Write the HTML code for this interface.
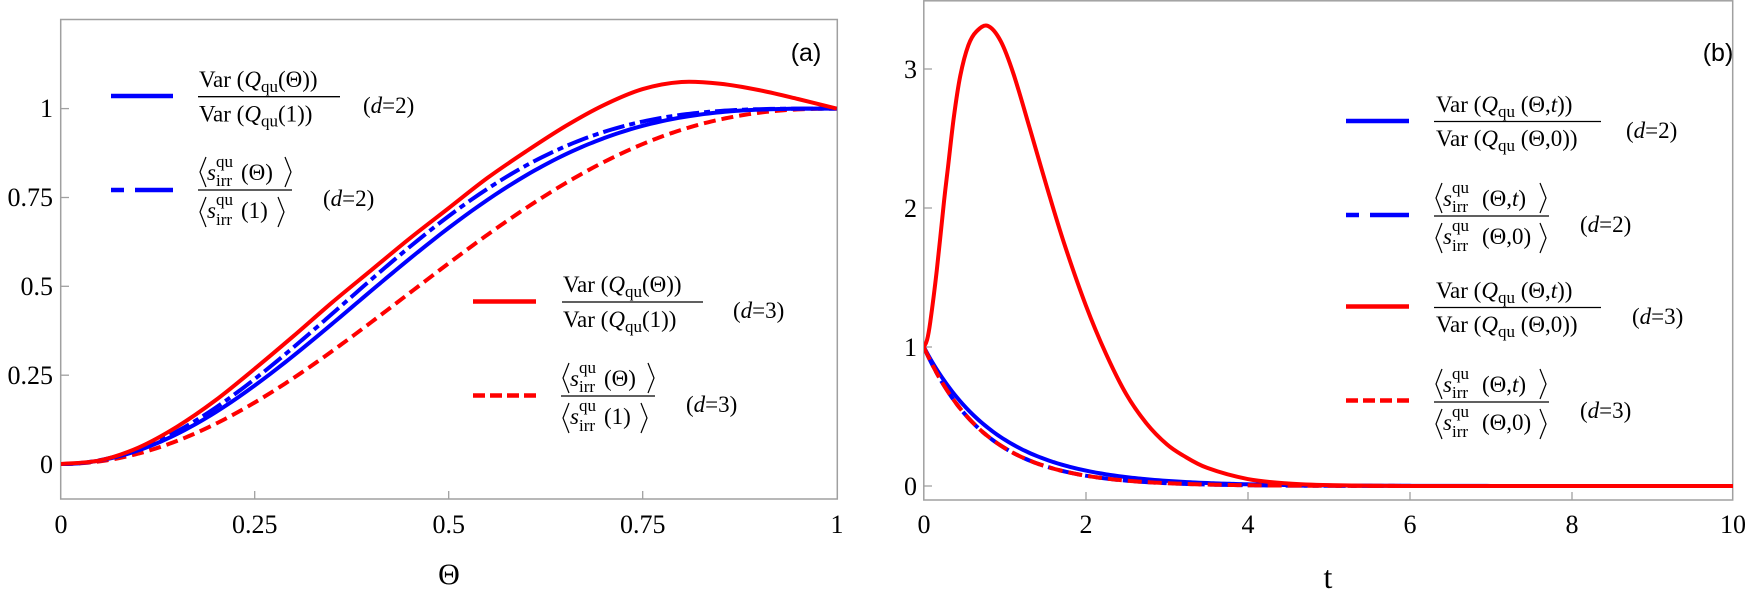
<!DOCTYPE html>
<html><head><meta charset="utf-8"><style>
html,body{margin:0;padding:0;background:#fff;}
svg{display:block;}
svg text, svg tspan{font-family:"Liberation Serif","Times New Roman",serif !important;}
svg text.sans{font-family:"Liberation Sans",sans-serif !important;}
</style></head><body>
<svg id="s" width="1748" height="589" viewBox="0 0 1748 589" xmlns="http://www.w3.org/2000/svg" font-family="Liberation Serif, serif">
<defs>
<clipPath id="ca"><rect x="61" y="20" width="776" height="479"/></clipPath>
<clipPath id="cb"><rect x="924" y="1" width="809" height="499"/></clipPath>
</defs>
<rect x="60.7" y="19.5" width="776.6" height="479.5" fill="none" stroke="#a0a0a0" stroke-width="1.5"/>
<rect x="923.8" y="0.8" width="808.9" height="499.2" fill="none" stroke="#a0a0a0" stroke-width="1.5"/>
<g stroke="#a0a0a0" stroke-width="1.3">
<line x1="61" y1="464" x2="69" y2="464"/><line x1="61" y1="375.2" x2="69" y2="375.2"/>
<line x1="61" y1="286.3" x2="69" y2="286.3"/><line x1="61" y1="197.5" x2="69" y2="197.5"/>
<line x1="61" y1="108.6" x2="69" y2="108.6"/>
<line x1="254.7" y1="499" x2="254.7" y2="491"/><line x1="448.7" y1="499" x2="448.7" y2="491"/>
<line x1="642.7" y1="499" x2="642.7" y2="491"/>
<line x1="924" y1="486" x2="932" y2="486"/><line x1="924" y1="347" x2="932" y2="347"/>
<line x1="924" y1="208" x2="932" y2="208"/><line x1="924" y1="69" x2="932" y2="69"/>
<line x1="1086" y1="500" x2="1086" y2="492"/><line x1="1248" y1="500" x2="1248" y2="492"/>
<line x1="1410" y1="500" x2="1410" y2="492"/><line x1="1572" y1="500" x2="1572" y2="492"/>
</g>
<g font-size="26" text-anchor="end" font-family="Liberation Serif, serif">
<text x="53" y="473">0</text><text x="53" y="384">0.25</text><text x="53" y="295">0.5</text>
<text x="53" y="206">0.75</text><text x="53" y="117">1</text>
</g>
<g font-size="26" text-anchor="middle" font-family="Liberation Serif, serif">
<text x="61" y="533">0</text><text x="254.7" y="533">0.25</text><text x="448.7" y="533">0.5</text>
<text x="642.7" y="533">0.75</text><text x="837" y="533">1</text>
<text x="449" y="584" font-size="30">Θ</text>
</g>
<g font-size="26" text-anchor="end" font-family="Liberation Serif, serif">
<text x="917" y="495">0</text><text x="917" y="356">1</text><text x="917" y="217">2</text><text x="917" y="78">3</text>
</g>
<g font-size="26" text-anchor="middle" font-family="Liberation Serif, serif">
<text x="924" y="533">0</text><text x="1086" y="533">2</text><text x="1248" y="533">4</text>
<text x="1410" y="533">6</text><text x="1572" y="533">8</text><text x="1733" y="533">10</text>
<text x="1328" y="588" font-size="32">t</text>
</g>
<text class="sans" x="806" y="61" font-size="25" text-anchor="middle" font-family="Liberation Sans, sans-serif">(a)</text>
<text class="sans" x="1718" y="61" font-size="25" text-anchor="middle" font-family="Liberation Sans, sans-serif">(b)</text>

<g id="curvesA" clip-path="url(#ca)" fill="none" stroke-width="4"></g>
<g id="curvesB" clip-path="url(#cb)" fill="none" stroke-width="4"></g>

<g stroke-width="4.5">
<line x1="111" y1="96" x2="173" y2="96" stroke="#0000ff"/>
<line x1="111" y1="190" x2="173" y2="190" stroke="#0000ff" stroke-dasharray="13,11,40"/>
<line x1="473" y1="301.5" x2="536" y2="301.5" stroke="#ff0000"/>
<line x1="473" y1="395.5" x2="536" y2="395.5" stroke="#ff0000" stroke-dasharray="12,5"/>
</g>
<g font-size="23" stroke="none" font-family="Liberation Serif, serif">
<line x1="198" y1="96.7" x2="340" y2="96.7" stroke="#000" stroke-width="1.3"/>
<text x="199" y="87">Var (<tspan font-style="italic">Q</tspan><tspan font-size="17" dy="5">qu</tspan><tspan dy="-5">(Θ))</tspan></text>
<text x="199" y="121.5">Var (<tspan font-style="italic">Q</tspan><tspan font-size="17" dy="5">qu</tspan><tspan dy="-5">(1))</tspan></text>
<text x="363" y="113">(<tspan font-style="italic">d</tspan>=2)</text>

<line x1="198" y1="190" x2="292" y2="190" stroke="#000" stroke-width="1.3"/>
<path d="M206,157 L200,172 L206,187 M285,157 L291,172 L285,187 M206,197 L200,212 L206,227 M278,197 L284,212 L278,227" stroke="#000" stroke-width="1.2" fill="none"/>
<text x="207" y="180" font-style="italic">s</text>
<text x="216" y="167" font-size="17">qu</text><text x="216" y="186" font-size="17">irr</text>
<text x="241" y="180">(Θ)</text>
<text x="207" y="218" font-style="italic">s</text>
<text x="216" y="205" font-size="17">qu</text><text x="216" y="225" font-size="17">irr</text>
<text x="241" y="218">(1)</text>
<text x="323" y="206">(<tspan font-style="italic">d</tspan>=2)</text>

<line x1="562" y1="302" x2="703" y2="302" stroke="#000" stroke-width="1.3"/>
<text x="563" y="292">Var (<tspan font-style="italic">Q</tspan><tspan font-size="17" dy="5">qu</tspan><tspan dy="-5">(Θ))</tspan></text>
<text x="563" y="327">Var (<tspan font-style="italic">Q</tspan><tspan font-size="17" dy="5">qu</tspan><tspan dy="-5">(1))</tspan></text>
<text x="733" y="318">(<tspan font-style="italic">d</tspan>=3)</text>

<line x1="561" y1="396" x2="655" y2="396" stroke="#000" stroke-width="1.3"/>
<path d="M569,363 L563,378 L569,393 M648,363 L654,378 L648,393 M569,403 L563,418 L569,433 M641,403 L647,418 L641,433" stroke="#000" stroke-width="1.2" fill="none"/>
<text x="570" y="386" font-style="italic">s</text>
<text x="579" y="373" font-size="17">qu</text><text x="579" y="392" font-size="17">irr</text>
<text x="604" y="386">(Θ)</text>
<text x="570" y="424" font-style="italic">s</text>
<text x="579" y="411" font-size="17">qu</text><text x="579" y="431" font-size="17">irr</text>
<text x="604" y="424">(1)</text>
<text x="686" y="412">(<tspan font-style="italic">d</tspan>=3)</text>
</g>

<g stroke-width="4.5">
<line x1="1346" y1="121" x2="1409" y2="121" stroke="#0000ff"/>
<line x1="1346" y1="215" x2="1409" y2="215" stroke="#0000ff" stroke-dasharray="13,11,40"/>
<line x1="1346" y1="306.5" x2="1409" y2="306.5" stroke="#ff0000"/>
<line x1="1346" y1="400.5" x2="1409" y2="400.5" stroke="#ff0000" stroke-dasharray="12,5"/>
</g>
<g font-size="23" font-family="Liberation Serif, serif">
<line x1="1434" y1="121.5" x2="1601" y2="121.5" stroke="#000" stroke-width="1.3"/>
<text x="1436" y="112">Var (<tspan font-style="italic">Q</tspan><tspan font-size="17" dy="5">qu</tspan><tspan dy="-5"> (Θ,<tspan font-style="italic">t</tspan>))</tspan></text>
<text x="1436" y="146">Var (<tspan font-style="italic">Q</tspan><tspan font-size="17" dy="5">qu</tspan><tspan dy="-5"> (Θ,0))</tspan></text>
<text x="1626" y="138">(<tspan font-style="italic">d</tspan>=2)</text>

<line x1="1434" y1="216" x2="1549" y2="216" stroke="#000" stroke-width="1.3"/>
<path d="M1442,183 L1436,198 L1442,213 M1540,183 L1546,198 L1540,213 M1442,223 L1436,238 L1442,253 M1540,223 L1546,238 L1540,253" stroke="#000" stroke-width="1.2" fill="none"/>
<text x="1443" y="206" font-style="italic">s</text>
<text x="1452" y="193" font-size="17">qu</text><text x="1452" y="212" font-size="17">irr</text>
<text x="1482" y="206">(Θ,<tspan font-style="italic">t</tspan>)</text>
<text x="1443" y="244" font-style="italic">s</text>
<text x="1452" y="231" font-size="17">qu</text><text x="1452" y="251" font-size="17">irr</text>
<text x="1482" y="244">(Θ,0)</text>
<text x="1580" y="232">(<tspan font-style="italic">d</tspan>=2)</text>

<line x1="1434" y1="307.5" x2="1601" y2="307.5" stroke="#000" stroke-width="1.3"/>
<text x="1436" y="298">Var (<tspan font-style="italic">Q</tspan><tspan font-size="17" dy="5">qu</tspan><tspan dy="-5"> (Θ,<tspan font-style="italic">t</tspan>))</tspan></text>
<text x="1436" y="332">Var (<tspan font-style="italic">Q</tspan><tspan font-size="17" dy="5">qu</tspan><tspan dy="-5"> (Θ,0))</tspan></text>
<text x="1632" y="324">(<tspan font-style="italic">d</tspan>=3)</text>

<line x1="1434" y1="402" x2="1549" y2="402" stroke="#000" stroke-width="1.3"/>
<path d="M1442,369 L1436,384 L1442,399 M1540,369 L1546,384 L1540,399 M1442,409 L1436,424 L1442,439 M1540,409 L1546,424 L1540,439" stroke="#000" stroke-width="1.2" fill="none"/>
<text x="1443" y="392" font-style="italic">s</text>
<text x="1452" y="379" font-size="17">qu</text><text x="1452" y="398" font-size="17">irr</text>
<text x="1482" y="392">(Θ,<tspan font-style="italic">t</tspan>)</text>
<text x="1443" y="430" font-style="italic">s</text>
<text x="1452" y="417" font-size="17">qu</text><text x="1452" y="437" font-size="17">irr</text>
<text x="1482" y="430">(Θ,0)</text>
<text x="1580" y="418">(<tspan font-style="italic">d</tspan>=3)</text>
</g>
</svg>
<script>
(function(){
var NS="http://www.w3.org/2000/svg";
function cr(pts){
  var d="M"+pts[0][0].toFixed(2)+","+pts[0][1].toFixed(2);
  for(var i=0;i<pts.length-1;i++){
    var p0=pts[i>0?i-1:i],p1=pts[i],p2=pts[i+1],p3=pts[i+2<pts.length?i+2:i+1];
    var c1=[p1[0]+(p2[0]-p0[0])/6,p1[1]+(p2[1]-p0[1])/6];
    var c2=[p2[0]-(p3[0]-p1[0])/6,p2[1]-(p3[1]-p1[1])/6];
    d+=" C"+c1[0].toFixed(2)+","+c1[1].toFixed(2)+" "+c2[0].toFixed(2)+","+c2[1].toFixed(2)+" "+p2[0].toFixed(2)+","+p2[1].toFixed(2);
  }
  return d;
}
function add(g,knots,fx,fy,color,dash){
  var pts=knots.map(function(k){return [fx(k[0]),fy(k[1])];});
  var p=document.createElementNS(NS,"path");
  p.setAttribute("d",cr(pts));p.setAttribute("stroke",color);
  if(dash)p.setAttribute("stroke-dasharray",dash);
  document.getElementById(g).appendChild(p);
}
function addF(g,f,t0,t1,n,fx,fy,color,dash){
  var k=[];for(var i=0;i<=n;i++){var t=t0+(t1-t0)*i/n;k.push([t,f(t)]);}
  add(g,k,fx,fy,color,dash);
}
var ax=function(x){return 60.7+776*x;}, ay=function(v){return 464-355.4*v;};
var bx=function(x){return 923.8+81*x;}, by=function(v){return 486-139*v;};
function base(k){return function(x){return 1-Math.pow(Math.cos(Math.PI*x/2),k);};}
// panel a
addF("curvesA",base(2.4),0,1,100,ax,ay,"#ff0000","12,6");
addF("curvesA",base(3.15),0,1,100,ax,ay,"#0000ff");
addF("curvesA",base(3.45),0,1,100,ax,ay,"#0000ff","22,5,6,5");
add("curvesA",[[0,0],[0.05,0.01],[0.1,0.046],[0.15,0.105],[0.2,0.18],[0.25,0.268],[0.3,0.36],[0.35,0.455],[0.4,0.545],[0.45,0.635],[0.5,0.72],[0.55,0.805],[0.6,0.88],[0.65,0.95],[0.7,1.01],[0.75,1.055],[0.8,1.075],[0.85,1.07],[0.9,1.052],[0.95,1.027],[1,1]],ax,ay,"#ff0000");
// panel b
addF("curvesB",function(t){return Math.exp(-1.1*t);},0,10,200,bx,by,"#0000ff");
addF("curvesB",function(t){return Math.exp(-1.3*t);},0,10,200,bx,by,"#0000ff","22,5,6,5");
addF("curvesB",function(t){return Math.exp(-1.3*t);},0,10,200,bx,by,"#ff0000","14,6");
add("curvesB",[[0,1],[0.04,1.05],[0.08,1.18],[0.16,1.55],[0.25,2.05],[0.3,2.3],[0.37,2.65],[0.45,2.95],[0.55,3.17],[0.65,3.27],[0.79,3.31],[0.95,3.2],[1.11,2.96],[1.32,2.55],[1.52,2.15],[1.73,1.75],[2,1.3],[2.25,0.95],[2.5,0.66],[2.75,0.45],[3,0.3],[3.2,0.22],[3.5,0.13],[4,0.05],[4.5,0.018],[5,0.006],[6,0.0],[8,0],[10,0]],bx,by,"#ff0000");
})();
</script>
</body></html>
